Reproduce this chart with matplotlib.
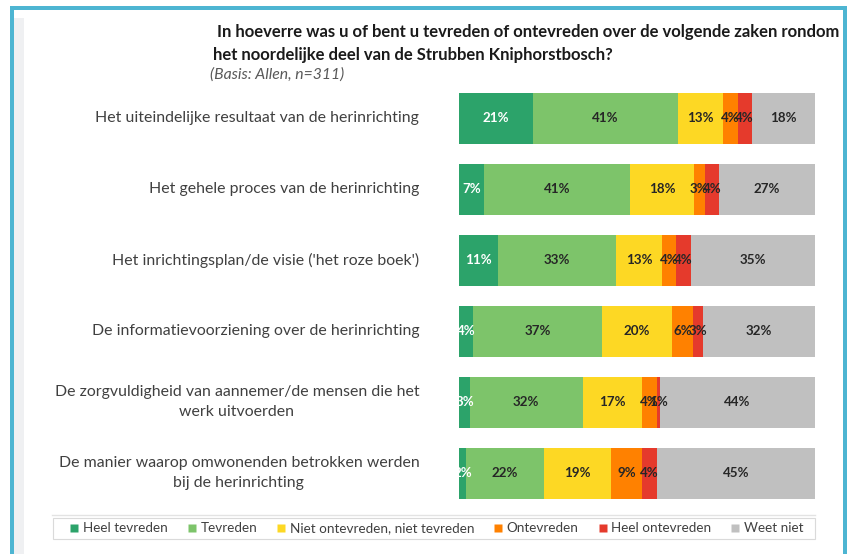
import matplotlib
matplotlib.use("Agg")
import matplotlib.pyplot as plt
from matplotlib.patches import Rectangle
from matplotlib.lines import Line2D
import numpy as np

categories = [
    "Het uiteindelijke resultaat van de herinrichting",
    "Het gehele proces van de herinrichting",
    "Het inrichtingsplan/de visie ('het roze boek')",
    "De informatievoorziening over de herinrichting",
    "De zorgvuldigheid van aannemer/de mensen die het\nwerk uitvoerden",
    "De manier waarop omwonenden betrokken werden\nbij de herinrichting",
]
series_names = ["Heel tevreden", "Tevreden", "Niet ontevreden, niet tevreden",
                "Ontevreden", "Heel ontevreden", "Weet niet"]
heel_tevreden = [21, 7, 11, 4, 3, 2]
tevreden = [41, 41, 33, 37, 32, 22]
neutraal = [13, 18, 13, 20, 17, 19]
ontevreden = [4, 3, 4, 6, 4, 9]
heel_ontevreden = [4, 4, 4, 3, 1, 4]
weet_niet = [18, 27, 35, 32, 44, 45]
colors = ["#2CA36A", "#7DC46A", "#FDD824", "#FF8100", "#E53A2C", "#C0C0C0"]
label_colors = ["white", "#262626", "#262626", "#262626", "#262626", "#262626"]

title_lines = [" In hoeverre was u of bent u tevreden of ontevreden over de volgende zaken rondom",
               "het noordelijke deel van de Strubben Kniphorstbosch?"]
subtitle = "(Basis: Allen, n=311)"

plt.rcParams['font.family'] = ['Lato', 'DejaVu Sans']

W, H = 851, 554
fig = plt.figure(figsize=(W / 100, H / 100), dpi=100)
fig.patch.set_facecolor("white")

# frame decorations
blue = "#4DB5D2"
fig.add_artist(Rectangle((13 / W, 0), 11 / W, (H - 18) / H, transform=fig.transFigure,
                         facecolor="#EFF0F2", edgecolor="none", zorder=0))
fig.add_artist(Rectangle((10 / W, 0), 3.5 / W, (H - 6) / H, transform=fig.transFigure,
                         facecolor=blue, edgecolor="none", zorder=5))
fig.add_artist(Rectangle((843 / W, 0), 4 / W, (H - 6) / H, transform=fig.transFigure,
                         facecolor=blue, edgecolor="none", zorder=5))
fig.add_artist(Rectangle((10 / W, (H - 10) / H), 837 / W, 4 / H, transform=fig.transFigure,
                         facecolor=blue, edgecolor="none", zorder=5))

# axes
top, bottom = 83, 508.5
left, right = 459.3, 815
ax = fig.add_axes([left / W, 1 - bottom / H, (right - left) / W, (bottom - top) / H])
ax.set_facecolor("none")

data = np.array([heel_tevreden, tevreden, neutraal, ontevreden, heel_ontevreden, weet_niet], dtype=float)
totals = data.sum(axis=0)
shares = data / totals * 100
y = np.arange(len(categories))
start = np.zeros(len(categories))
for i in range(len(series_names)):
    ax.barh(y, shares[i], left=start, height=0.72, color=colors[i], edgecolor="none")
    for j in range(len(categories)):
        cx = start[j] + shares[i][j] / 2
        ax.text(cx, y[j], f"{int(data[i][j])}%", ha="center", va="center",
                fontsize=9.6, fontweight="bold", color=label_colors[i])
    start += shares[i]

ax.set_xlim(0, 100)
ax.set_ylim(len(categories) - 0.5, -0.5)
ax.set_xticks([])
ax.set_yticks([])
for s in ax.spines.values():
    s.set_visible(False)

for j, cat in enumerate(categories):
    ax.annotate(cat, xy=(0, y[j]), xycoords=("axes fraction", "data"),
                xytext=(-40, 0), textcoords="offset pixels",
                ha="right", va="center", multialignment="center",
                fontsize=11.4, color="#404040", linespacing=1.5)

# title
fig.text(213 / W, 1 - 32 / H, title_lines[0], ha="left", va="center",
         fontsize=12.0, fontweight="bold", color="#1a1a1a")
fig.text(213 / W, 1 - 55 / H, title_lines[1], ha="left", va="center",
         fontsize=12.0, fontweight="bold", color="#1a1a1a")
fig.text(210 / W, 1 - 75 / H, subtitle, ha="left", va="center",
         fontsize=11.3, style="italic", color="#595959")

# legend box and line
fig.add_artist(Line2D([52 / W, 815 / W], [1 - 515 / H, 1 - 515 / H], transform=fig.transFigure,
                      color="#E3E3E3", lw=1))
fig.add_artist(Rectangle((52.5 / W, 1 - 539 / H), (815 - 52.5) / W, 21 / H,
                         transform=fig.transFigure, facecolor="white",
                         edgecolor="#DADADA", lw=0.8))
handles = [Line2D([], [], marker="s", linestyle="none", markersize=5.5,
                  markerfacecolor=c, markeredgecolor="none") for c in colors]
leg = fig.legend(handles, series_names, loc="center",
                 bbox_to_anchor=(436.5 / W, 1 - 528.5 / H),
                 ncol=6, frameon=False, fontsize=9.7, handlelength=0.7,
                 handletextpad=0.3, columnspacing=1.42, borderpad=0.2,
                 labelcolor="#404040")

fig.savefig("out.png", dpi=100)
